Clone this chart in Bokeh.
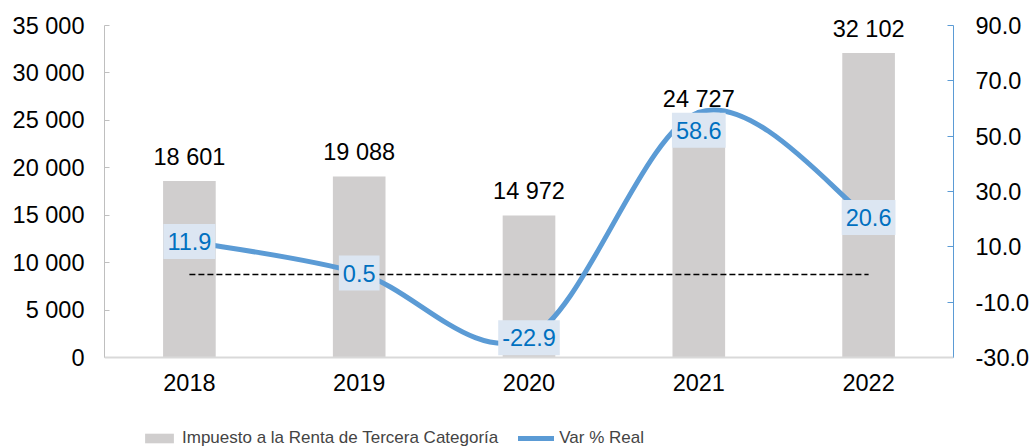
from bokeh.plotting import figure
from bokeh.models import Range1d, LinearAxis, FixedTicker, ColumnDataSource, Legend, LegendItem, Span
from bokeh.core.properties import value
from bokeh.embed import file_html
from bokeh.resources import INLINE

# ---- data ----
years = ["2018", "2019", "2020", "2021", "2022"]
impuesto = [18601, 19088, 14972, 24727, 32102]
var_real = [11.9, 0.5, -22.9, 58.6, 20.6]
left_ticks = [0, 5000, 10000, 15000, 20000, 25000, 30000, 35000]
right_ticks = [-30, -10, 10, 30, 50, 70, 90]
zero_ref = 0
series_names = ["Impuesto a la Renta de Tercera Categoría", "Var % Real"]

# ---- style / layout ----
FONT = "Liberation Sans"
FS = "23.5px"
var_label_shift = [0, 0, 0, 18, 0]   # screen px shift of the % labels (placement only)

W, H = 1032, 448
LEFT, RIGHT = 104, 78
AXIS_TOP, AXIS_BOTTOM = 25, 357       # pixel rows of the value-axis extent
plot_h = AXIS_BOTTOM - AXIS_TOP
below_px = H - AXIS_BOTTOM
above_px = AXIS_TOP


def fmt_thousands(v):
    return f"{v:,}".replace(",", " ")


def extended(lo, hi):
    span = hi - lo
    return Range1d(lo - span * below_px / plot_h, hi + span * above_px / plot_h)


idx = list(range(len(years)))

p = figure(width=W, height=H, output_backend="svg", toolbar_location=None,
           x_range=Range1d(-0.5, len(years) - 0.5),
           y_range=extended(left_ticks[0], left_ticks[-1]),
           x_axis_location=None,
           min_border_left=LEFT, min_border_right=RIGHT, min_border_top=0, min_border_bottom=0)
p.outline_line_color = None
p.grid.visible = False
p.background_fill_color = "white"
p.border_fill_color = "white"

# left axis
ya = p.yaxis[0]
ya.ticker = FixedTicker(ticks=left_ticks)
ya.bounds = (left_ticks[0], left_ticks[-1])
ya.major_label_overrides = {t: fmt_thousands(t) for t in left_ticks}
ya.axis_line_color = "#BFBFBF"
ya.major_tick_line_color = "#BFBFBF"
ya.major_tick_in = 5
ya.major_tick_out = 0
ya.minor_tick_line_color = None
ya.major_label_standoff = 20
ya.major_label_text_font = FONT
ya.major_label_text_font_size = FS
ya.major_label_text_color = "black"

# right axis
p.extra_y_ranges = {"right": extended(right_ticks[0], right_ticks[-1])}
ra = LinearAxis(y_range_name="right", ticker=FixedTicker(ticks=right_ticks),
                bounds=(right_ticks[0], right_ticks[-1]),
                major_label_overrides={t: f"{t:.1f}" for t in right_ticks})
ra.axis_line_color = "#5B9BD5"
ra.major_tick_line_color = "#5B9BD5"
ra.major_tick_in = 6
ra.major_tick_out = 0
ra.minor_tick_line_color = None
ra.major_label_standoff = 22
ra.major_label_text_font = FONT
ra.major_label_text_font_size = FS
ra.major_label_text_color = "black"
p.add_layout(ra, "right")

# category axis line and labels
p.add_layout(Span(location=left_ticks[0], dimension="width", line_color="#D9D9D9", line_width=2))
p.text(x=idx, y=[left_ticks[0]] * len(idx), text=years, text_align="center",
       text_baseline="top", y_offset=16, text_font=value(FONT),
       text_font_size=value(FS), text_color="black")

# bars
src = ColumnDataSource(dict(x=idx, imp=impuesto, lab=[fmt_thousands(v) for v in impuesto]))
bars = p.vbar(x="x", top="imp", width=0.31, bottom=0, source=src,
              fill_color="#D0CECE", line_color=None)

# zero reference dashed line (right axis)
p.segment(x0=[idx[0]], y0=[zero_ref], x1=[idx[-1]], y1=[zero_ref], y_range_name="right",
          line_color="black", line_width=1.5, line_dash="6 3")

# smoothed line (Catmull-Rom style bezier segments through data points)
n = len(idx)
x0s, y0s, x1s, y1s, cx0s, cy0s, cx1s, cy1s = [], [], [], [], [], [], [], []
for i in range(n - 1):
    pm = max(i - 1, 0)
    pp = min(i + 2, n - 1)
    x0s.append(idx[i]); y0s.append(var_real[i])
    x1s.append(idx[i + 1]); y1s.append(var_real[i + 1])
    cx0s.append(idx[i] + (idx[i + 1] - idx[pm]) / 6)
    cy0s.append(var_real[i] + (var_real[i + 1] - var_real[pm]) / 6)
    cx1s.append(idx[i + 1] - (idx[pp] - idx[i]) / 6)
    cy1s.append(var_real[i + 1] - (var_real[pp] - var_real[i]) / 6)
curve = p.bezier(x0=x0s, y0=y0s, x1=x1s, y1=y1s, cx0=cx0s, cy0=cy0s, cx1=cx1s, cy1=cy1s,
                 y_range_name="right", line_color="#5B9BD5", line_width=5, line_cap="round")

# bar value labels
p.text(x="x", y="imp", text="lab", source=src, text_align="center",
       text_baseline="alphabetic", y_offset=-24, text_font=value(FONT),
       text_font_size=value(FS), text_color="black")

# line labels
lsrc = ColumnDataSource(dict(x=idx, v=var_real, lab=[f"{v:.1f}" for v in var_real],
                             dy=var_label_shift))
p.text(x="x", y="v", text="lab", source=lsrc, y_range_name="right", y_offset="dy",
       text_align="center", text_baseline="middle", text_font=value(FONT),
       text_font_size=value(FS), text_color="#0070C0",
       background_fill_color="#DCE6F2", padding=(4, 9))

legend = Legend(items=[LegendItem(label=series_names[0], renderers=[bars]),
                       LegendItem(label=series_names[1], renderers=[curve])],
                orientation="horizontal", location=(37, 0),
                label_text_font=FONT, label_text_font_size="17px",
                glyph_width=36, glyph_height=12, label_standoff=5, spacing=20,
                padding=0, margin=0, border_line_color=None, background_fill_alpha=0)
p.add_layout(legend)

open("out.html", "w").write(file_html(p, INLINE))
